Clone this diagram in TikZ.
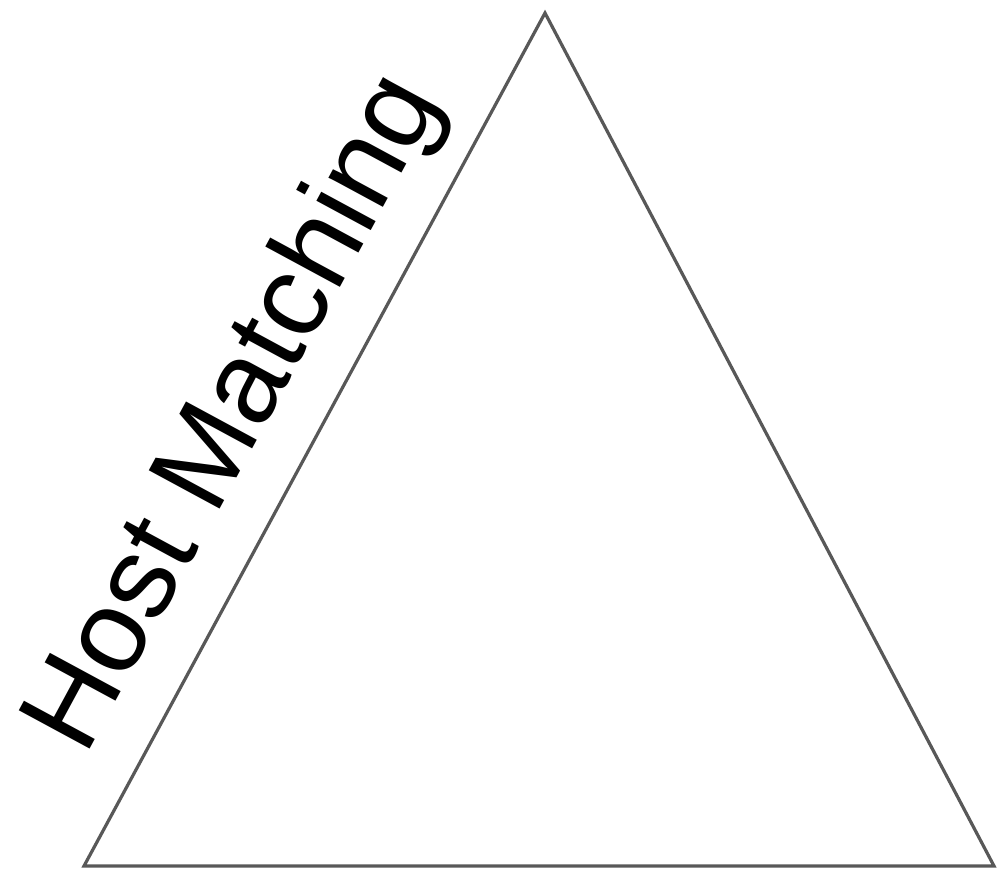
\documentclass[tikz,border=0pt]{standalone}
\usepackage{fontspec}
\setmainfont{Liberation Sans}
\definecolor{edgegray}{RGB}{88,88,88}
\begin{document}
\begin{tikzpicture}[x=1pt,y=-1pt,
  tri/.style={draw=edgegray,line width=3.2pt,line join=miter},
  lbl/.style={inner sep=0pt,anchor=base west,rotate=61.6,font=\fontsize{117}{140}\selectfont}]
\useasboundingbox[fill=white] (0,0) rectangle (998,881);
\coordinate (T) at (545,13);
\coordinate (L) at (84,866);
\coordinate (R) at (994,866);
\draw[tri] (L) -- (T) -- (R) -- cycle;
\node[lbl] (lab) at (85.7,758) {Host Matching};
\end{tikzpicture}
\end{document}
